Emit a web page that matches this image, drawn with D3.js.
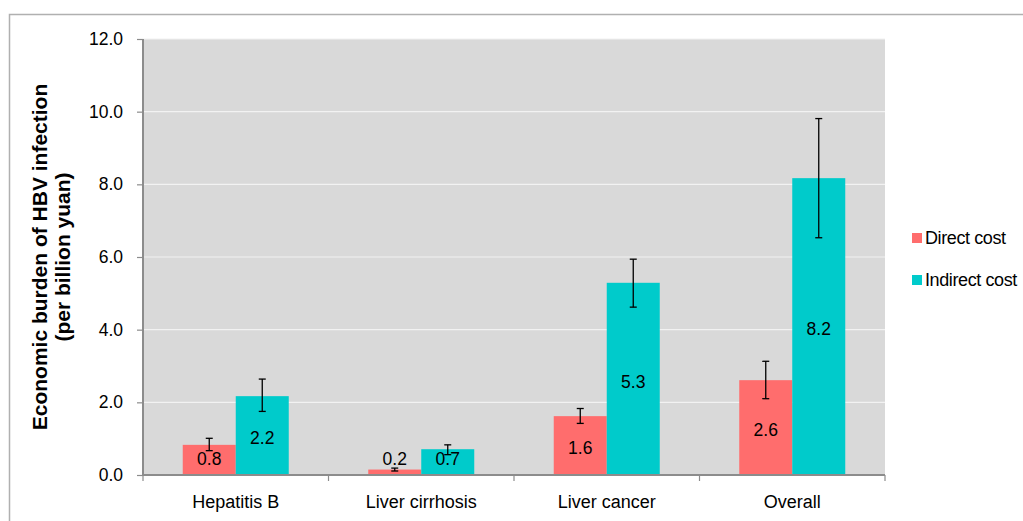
<!DOCTYPE html>
<html>
<head>
<meta charset="utf-8">
<script src="https://cdn.jsdelivr.net/npm/d3@7"></script>
<style>
  body { margin: 0; background: #fff; }
  svg { display: block; font-family: "Liberation Sans", Arial, sans-serif; }
</style>
</head>
<body>
<svg id="chart" width="1023" height="521"></svg>
<script>
// chart data
const categories = ['Hepatitis B', 'Liver cirrhosis', 'Liver cancer', 'Overall'];
const seriesNames = ['Direct cost', 'Indirect cost'];
const directVals = [0.83, 0.15, 1.62, 2.61];
const directLow = [0.67, 0.11, 1.42, 2.10];
const directHigh = [1.01, 0.19, 1.83, 3.13];
const indirectVals = [2.17, 0.71, 5.29, 8.17];
const indirectLow = [1.75, 0.56, 4.62, 6.53];
const indirectHigh = [2.64, 0.83, 5.94, 9.81];
const directLabels = ['0.8', '0.2', '1.6', '2.6'];
const indirectLabels = ['2.2', '0.7', '5.3', '8.2'];
const yTicks = [0, 2, 4, 6, 8, 10, 12];

const colors = { 'Direct cost': '#ff6d6d', 'Indirect cost': '#00cbcb' };
const FONT = '"Liberation Sans", Arial, sans-serif';

const svg = d3.select('#chart');

// outer frame
svg.append('rect')
  .attr('x', 9.5).attr('y', 14.5)
  .attr('width', 1030).attr('height', 520)
  .attr('fill', 'none').attr('stroke', '#b0b0b0').attr('stroke-width', 1.5);

const plotL = 143, plotR = 885, plotT = 39, plotB = 475;

const x = d3.scaleBand().domain(categories).range([plotL, plotR]);
const y = d3.scaleLinear().domain([0, 12]).range([plotB, plotT]);

// plot background
svg.append('rect')
  .attr('x', plotL).attr('y', plotT)
  .attr('width', plotR - plotL).attr('height', plotB - plotT)
  .attr('fill', '#d9d9d9');

// gridlines
svg.append('g')
  .selectAll('line')
  .data(yTicks.filter(d => d > 0))
  .join('line')
  .attr('x1', plotL).attr('x2', plotR)
  .attr('y1', d => y(d)).attr('y2', d => y(d))
  .attr('stroke', '#f2f2f2').attr('stroke-width', 1.2);

// build bar rows
const rows = [];
categories.forEach((c, i) => {
  rows.push({ cat: c, s: seriesNames[0], v: directVals[i], lo: directLow[i], hi: directHigh[i], label: directLabels[i] });
  rows.push({ cat: c, s: seriesNames[1], v: indirectVals[i], lo: indirectLow[i], hi: indirectHigh[i], label: indirectLabels[i] });
});

const xs = d3.scaleBand().domain(seriesNames)
  .range([0, x.bandwidth()]).paddingInner(0).paddingOuter(0.75);

svg.append('g')
  .selectAll('rect')
  .data(rows)
  .join('rect')
  .attr('x', d => x(d.cat) + xs(d.s))
  .attr('y', d => y(d.v))
  .attr('width', xs.bandwidth())
  .attr('height', d => y(0) - y(d.v))
  .attr('fill', d => colors[d.s]);

// error bars
const eb = svg.append('g').attr('stroke', '#000').attr('stroke-width', 1.3);
rows.forEach(d => {
  const cx = x(d.cat) + xs(d.s) + xs.bandwidth() / 2;
  eb.append('line').attr('x1', cx).attr('x2', cx).attr('y1', y(d.lo)).attr('y2', y(d.hi));
  [d.lo, d.hi].forEach(v => {
    eb.append('line').attr('x1', cx - 3.5).attr('x2', cx + 3.5).attr('y1', y(v)).attr('y2', y(v));
  });
});

// value labels
svg.append('g')
  .selectAll('text')
  .data(rows)
  .join('text')
  .attr('x', d => x(d.cat) + xs(d.s) + xs.bandwidth() / 2)
  .attr('y', d => Math.min((y(d.v) + y(0)) / 2 + 2.5, y(0) - 16))
  .attr('dy', '0.36em')
  .attr('text-anchor', 'middle')
  .attr('font-size', 17.5)
  .attr('fill', '#000')
  .text(d => d.label);

// axes
const yAxis = svg.append('g')
  .attr('transform', `translate(${plotL},0)`)
  .call(d3.axisLeft(y).tickValues(yTicks).tickFormat(d3.format('.1f')).tickSize(6).tickPadding(14));
yAxis.select('.domain').attr('stroke', '#8c8c8c').attr('stroke-width', 2).attr('d', `M0,${plotT}V${plotB}`);
yAxis.selectAll('.tick line').attr('stroke', '#8c8c8c').attr('stroke-width', 1.2);
yAxis.selectAll('.tick text').attr('font-size', 17.5).attr('fill', '#000').attr('font-family', FONT);

const xAxis = svg.append('g')
  .attr('transform', `translate(0,${plotB})`)
  .call(d3.axisBottom(x).tickSize(0).tickPadding(0));
xAxis.select('.domain').attr('stroke', '#8c8c8c').attr('stroke-width', 2).attr('d', `M${plotL},0H${plotR}`);
xAxis.selectAll('.tick text')
  .attr('y', 33).attr('dy', 0)
  .attr('font-size', 18).attr('fill', '#000').attr('font-family', FONT);
// category boundary ticks
xAxis.append('g')
  .selectAll('line')
  .data(categories.slice(1).map(c => x(c)).concat([plotL, plotR]))
  .join('line')
  .attr('x1', d => d).attr('x2', d => d)
  .attr('y1', 0).attr('y2', 6)
  .attr('stroke', '#8c8c8c').attr('stroke-width', 1.2);

// y-axis title
const title = svg.append('text')
  .attr('transform', `translate(47,${(plotT + plotB) / 2}) rotate(-90)`)
  .attr('text-anchor', 'middle')
  .attr('font-size', 21)
  .attr('font-weight', 'bold')
  .attr('fill', '#000');
title.append('tspan').attr('x', 0).attr('dy', 0).text('Economic burden of HBV infection');
title.append('tspan').attr('x', 0).attr('dy', 23).text('(per billion yuan)');

// legend
const legend = svg.append('g')
  .selectAll('g')
  .data(seriesNames)
  .join('g')
  .attr('transform', (d, i) => `translate(912,${238 + i * 42})`);
legend.append('rect')
  .attr('x', 0).attr('y', -5)
  .attr('width', 10).attr('height', 10)
  .attr('fill', d => colors[d]);
legend.append('text')
  .attr('x', 13).attr('dy', '0.36em')
  .attr('font-size', 18)
  .attr('letter-spacing', -0.4)
  .attr('fill', '#000')
  .text(d => d);
</script>
</body>
</html>
